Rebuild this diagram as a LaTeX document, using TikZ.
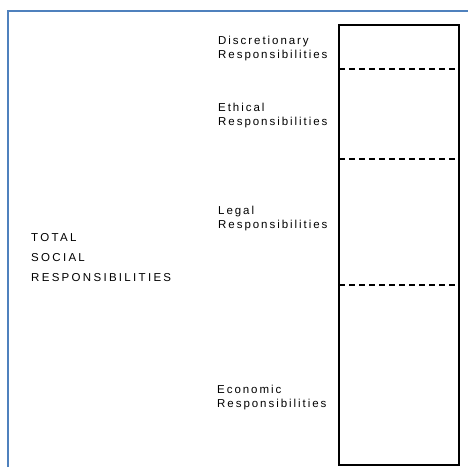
\documentclass[tikz,border=0pt]{standalone}
\usepackage{fontspec}
\newfontfamily\labelfont[LetterSpace=17]{Liberation Sans}
\newfontfamily\totalfont[LetterSpace=20]{Liberation Sans}
\definecolor{frameblue}{RGB}{79,129,189}
\tikzset{
  lbl/.style={anchor=west,align=left,inner sep=0pt,
    font=\labelfont\fontsize{11.5}{14}\selectfont},
  divider/.style={line width=1.2pt,dash pattern=on 6pt off 4pt}
}
\begin{document}
\begin{tikzpicture}[x=1pt,y=-1pt]
\useasboundingbox (0,0) rectangle (468,467);
\draw[color=frameblue,line width=1.6pt] (8,467) -- (8,11) -- (468,11);
% the column
\draw[line width=1.2pt] (339,25) rectangle (459,465);
\draw[divider] (339,69) -- (459,69);
\draw[divider] (339,159) -- (459,159);
\draw[divider] (339,285) -- (459,285);
% labels
\node[lbl] (disc) at (218,49) {Discretionary\\Responsibilities};
\node[lbl] (ethic) at (218,116) {Ethical\\Responsibilities};
\node[lbl] (legal) at (218,219) {Legal\\Responsibilities};
\node[lbl] (econ) at (217,398) {Economic\\Responsibilities};
\node[lbl,font=\totalfont\fontsize{11.5}{20}\selectfont] (total) at (31,258)
  {TOTAL\\SOCIAL\\RESPONSIBILITIES};
\end{tikzpicture}
\end{document}
